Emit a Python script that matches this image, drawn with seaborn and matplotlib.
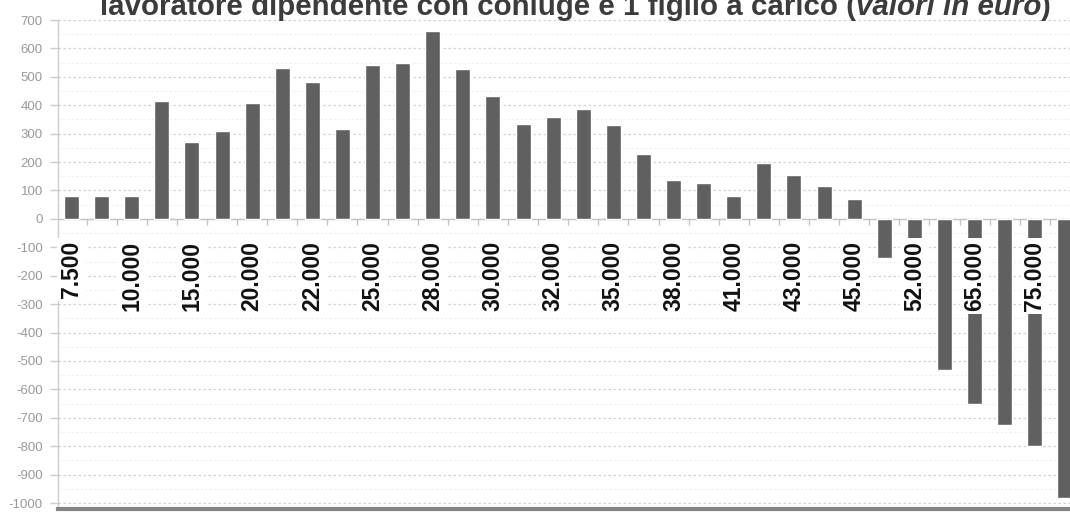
import numpy as np
import pandas as pd
import matplotlib
matplotlib.use("Agg")
import matplotlib.pyplot as plt
import seaborn as sns

# ---- data -------------------------------------------------------------
# 34 income brackets; only every other bracket is labelled on the chart
tick_labels = ["7.500", "10.000", "15.000", "20.000", "22.000", "25.000",
               "28.000", "30.000", "32.000", "35.000", "38.000", "41.000",
               "43.000", "45.000", "52.000", "65.000", "75.000"]
values = [80, 80, 80, 415, 272, 310, 408, 530, 483, 315, 542, 549, 661,
          526, 432, 333, 357, 386, 330, 229, 138, 126, 82, 196, 155, 117,
          71, -138, -260, -532, -650, -724, -801, -983]
bracket = list(range(len(values)))
title_main = "lavoratore dipendente con coniuge e 1 figlio a carico ("
title_ital = "valori in euro"
title_end = ")"
y_ticks = list(range(-1000, 701, 100))

df = pd.DataFrame({"fascia": bracket, "delta": values})

# ---- figure -----------------------------------------------------------
sns.set_style("white")
plt.rcParams["font.family"] = ["Liberation Sans", "DejaVu Sans"]

W, H = 1070, 513
fig = plt.figure(figsize=(W / 100, H / 100), dpi=100)
ax_left, ax_top, ax_bot = 58, 20, 509
ax = fig.add_axes([ax_left / W, (H - ax_bot) / H, (W - ax_left) / W,
                   (ax_bot - ax_top) / H])

sns.barplot(data=df, x="fascia", y="delta", color="#606060", saturation=1,
            width=0.5, ax=ax, zorder=3, errorbar=None)

ax.set_xlim(-0.449, 33.17)
ax.set_ylim(-1021, 700)
ax.set_xlabel("")
ax.set_ylabel("")

# grid
ax.set_yticks(y_ticks)
ax.set_yticklabels([str(v) for v in y_ticks])
ax.set_yticks(np.arange(-1000, 701, 50), minor=True)
ax.yaxis.grid(True, which="major", color="#d2d2d2", lw=0.9,
              linestyle=(0, (2, 2)), zorder=0)
ax.yaxis.grid(True, which="minor", color="#eeeeee", lw=0.8,
              linestyle=(0, (2, 2)), zorder=0)
ax.xaxis.grid(False)
ax.set_axisbelow(True)

ax.tick_params(axis="y", which="major", length=6, width=1, color="#cccccc",
               labelsize=9.5, labelcolor="#9a9a9a", pad=5, direction="out",
               left=True)
ax.tick_params(axis="y", which="minor", length=0)
ax.set_xticks([])

for s in ["top", "right"]:
    ax.spines[s].set_visible(False)
ax.spines["left"].set_color("#cccccc")
ax.spines["left"].set_linewidth(1)
ax.spines["bottom"].set_color("#858585")
ax.spines["bottom"].set_linewidth(3)

# zero line with small category separators
ax.axhline(0, color="#c4c4c4", lw=1, zorder=2)
ax.vlines(np.arange(len(values)) + 0.5, -22, 0, color="#c4c4c4", lw=1,
          zorder=2)

# category labels (every other bracket), on white boxes over the bars
for k, lab in enumerate(tick_labels):
    ax.text(2 * k, -78, lab, rotation=90, ha="center", va="top",
            fontsize=16.5, fontweight="bold", color="#111111", zorder=5,
            bbox=dict(boxstyle="square,pad=0.12", fc="white", ec="none"))

# title (partly cut off at the top, as in the reference)
fig.canvas.draw()
r = fig.canvas.get_renderer()
base_fs = 17
tx0 = 100 / W
ty = 1 - 15 / H
target_w = 953


def place(fs):
    items = []
    x = tx0
    for txt, style in [(title_main, "normal"), (title_ital, "italic"),
                       (title_end, "normal")]:
        t = fig.text(x, ty, txt, fontsize=fs, fontweight="bold",
                     fontstyle=style, color="#3c3c3c", ha="left",
                     va="baseline")
        bb = t.get_window_extent(renderer=r)
        x += bb.width / W
        items.append(t)
    return items, (x - tx0) * W


items, w = place(base_fs)
for t in items:
    t.remove()
place(base_fs * target_w / w)

fig.savefig("out.png", dpi=100)
